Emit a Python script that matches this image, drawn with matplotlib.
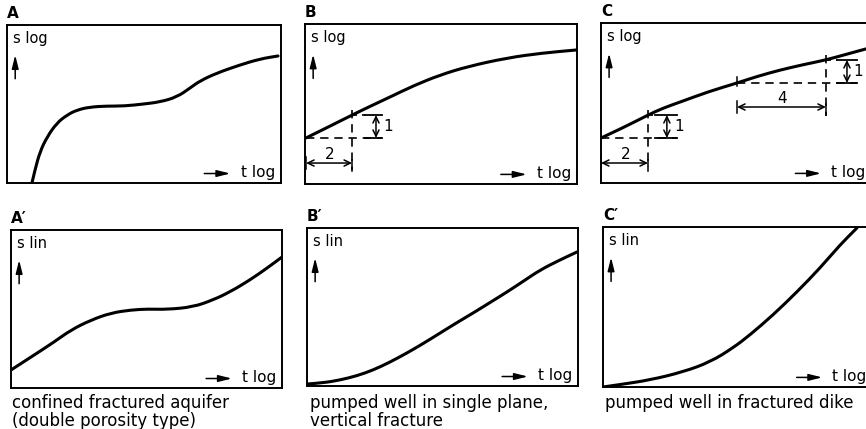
import matplotlib
matplotlib.use("Agg")
import matplotlib.pyplot as plt
from matplotlib.path import Path
from matplotlib.patches import PathPatch

# curves, in box fractions (t log -> x, s -> y)
a_t = [0.091, 0.102, 0.120, 0.146, 0.182, 0.219, 0.255, 0.303, 0.365, 0.427, 0.500, 0.558, 0.620, 0.668, 0.704, 0.766, 0.850, 0.923, 0.989]
a_s = [0.000, 0.082, 0.196, 0.291, 0.380, 0.430, 0.462, 0.481, 0.487, 0.487, 0.500, 0.513, 0.544, 0.601, 0.646, 0.696, 0.747, 0.785, 0.804]

b_t = [0.004, 0.090, 0.173, 0.245, 0.313, 0.400, 0.496, 0.600, 0.743, 0.870, 1.000]
b_s = [0.288, 0.360, 0.431, 0.490, 0.544, 0.615, 0.681, 0.735, 0.788, 0.818, 0.838]

c_t = [0.000, 0.090, 0.174, 0.230, 0.293, 0.400, 0.504, 0.580, 0.663, 0.750, 0.833, 0.910, 0.981, 1.000]
c_s = [0.281, 0.352, 0.425, 0.468, 0.506, 0.572, 0.625, 0.667, 0.706, 0.740, 0.769, 0.805, 0.838, 0.846]

a2_t = [0.000, 0.074, 0.159, 0.221, 0.295, 0.369, 0.443, 0.506, 0.576, 0.672, 0.745, 0.808, 0.882, 0.945, 1.000]
a2_s = [0.114, 0.196, 0.291, 0.367, 0.430, 0.475, 0.494, 0.500, 0.497, 0.513, 0.557, 0.608, 0.684, 0.759, 0.829]

b2_t = [0.004, 0.060, 0.122, 0.185, 0.244, 0.305, 0.369, 0.430, 0.491, 0.550, 0.613, 0.675, 0.738, 0.800, 0.860, 0.930, 0.996]
b2_s = [0.013, 0.020, 0.038, 0.065, 0.101, 0.150, 0.209, 0.270, 0.335, 0.398, 0.462, 0.528, 0.595, 0.665, 0.734, 0.795, 0.848]

c2_t = [0.000, 0.063, 0.175, 0.297, 0.398, 0.483, 0.546, 0.632, 0.721, 0.807, 0.881, 0.944]
c2_s = [0.000, 0.015, 0.044, 0.094, 0.156, 0.244, 0.325, 0.450, 0.594, 0.744, 0.888, 0.994]

panel_letters = ["A", "B", "C", "A\u2032", "B\u2032", "C\u2032"]
y_labels = ["s log", "s log", "s log", "s lin", "s lin", "s lin"]
captions = ["confined fractured aquifer\n(double porosity type)",
            "pumped well in single plane,\nvertical fracture",
            "pumped well in fractured dike"]

# slope construction points (start, end)
b_step = [(0.004, 0.288), (0.173, 0.431)]
c_step1 = [(0.000, 0.281), (0.174, 0.425)]
c_step2 = [(0.504, 0.625), (0.833, 0.769)]

W, H = 866, 429
fig = plt.figure(figsize=(W / 100, H / 100), dpi=100)
fig.patch.set_facecolor("white")


def rect(x0, y0, x1, y1):
    return [x0 / W, 1 - y1 / H, (x1 - x0) / W, (y1 - y0) / H]


def smooth_path(t, s):
    # quadratic bezier through midpoints, the read points act as control points
    pts = list(zip(t, s))
    verts = [pts[0]]
    codes = [Path.MOVETO]
    for k in range(1, len(pts) - 1):
        mid = ((pts[k][0] + pts[k + 1][0]) / 2, (pts[k][1] + pts[k + 1][1]) / 2)
        verts += [pts[k], mid]
        codes += [Path.CURVE3, Path.CURVE3]
    verts.append(pts[-1])
    codes.append(Path.LINETO)
    return Path(verts, codes)


boxes = [(7, 25, 281, 183), (305, 24, 577, 184), (601, 23, 871, 183),
         (11, 230, 282, 388), (307, 228, 578, 386), (603, 227, 872, 387)]
curves = [(a_t, a_s), (b_t, b_s), (c_t, c_s), (a2_t, a2_s), (b2_t, b2_s), (c2_t, c2_s)]

axes = []
for i, bx in enumerate(boxes):
    ax = fig.add_axes(rect(*bx))
    ax.set_xlim(0, 1)
    ax.set_ylim(0, 1)
    ax.set_xticks([])
    ax.set_yticks([])
    for sp in ax.spines.values():
        sp.set_linewidth(1.4)
        sp.set_color("black")
    t, s = curves[i]
    ax.add_patch(PathPatch(smooth_path(t, s), facecolor="none", edgecolor="black",
                           lw=2.2, capstyle="round", joinstyle="round"))

    # axis words and arrows
    ax.text(0.022, 0.915, y_labels[i], transform=ax.transAxes, fontsize=10.5,
            ha="left", va="center")
    ax.annotate("", xy=(0.03, 0.81), xytext=(0.03, 0.66), xycoords="axes fraction",
                arrowprops=dict(arrowstyle="-|>,head_length=0.8,head_width=0.2",
                                color="black", lw=1.1, shrinkA=0, shrinkB=0))
    ax.text(0.978, 0.065, "t log", transform=ax.transAxes, fontsize=11,
            ha="right", va="center")
    ax.annotate("", xy=(0.815, 0.06), xytext=(0.72, 0.06), xycoords="axes fraction",
                arrowprops=dict(arrowstyle="-|>,head_length=0.8,head_width=0.2",
                                color="black", lw=1.1, shrinkA=0, shrinkB=0))

    ax.text(0.0, 1.025, panel_letters[i], transform=ax.transAxes, fontsize=11,
            fontweight="bold", ha="left", va="bottom")
    axes.append(ax)

dim_arrow = dict(arrowstyle="<->,head_length=0.45,head_width=0.22", color="black",
                 lw=1.1, shrinkA=0, shrinkB=0)


def step(ax, p0, p1, hy, vx, cap0, cap1, label_w, label_h, v_low, h_end, lab_h_x, lab_w_x):
    (x0, y0), (x1, y1) = p0, p1
    # horizontal dashed from start, vertical dashed through end point
    ax.plot([x0, h_end], [y0, y0], color="black", lw=1.2, dashes=(5, 3.5))
    ax.plot([x1, x1], [y1 + 0.03, v_low], color="black", lw=1.2, dashes=(5, 3.5))
    ax.plot([x1, cap0], [y1, y1], color="black", lw=1.2, dashes=(3, 3))
    # caps of the vertical dimension
    ax.plot([cap0, cap1], [y1, y1], color="black", lw=1.3)
    ax.plot([cap0, cap1], [y0, y0], color="black", lw=1.3)
    ax.annotate("", xy=(vx, y1), xytext=(vx, y0), arrowprops=dim_arrow)
    ax.annotate("", xy=(x1, hy), xytext=(x0, hy), arrowprops=dim_arrow)
    ax.plot([x0, x0], [hy - 0.04, hy + 0.04], color="black", lw=1.1)
    ax.plot([x1, x1], [hy - 0.05, hy + 0.02], color="black", lw=1.1)
    ax.text(lab_w_x, hy + 0.055, label_w, fontsize=11, ha="center", va="center")
    ax.text(lab_h_x, (y0 + y1) / 2, label_h, fontsize=11, ha="left", va="center")


step(axes[1], b_step[0], b_step[1], 0.131, 0.261, 0.22, 0.283, "2", "1",
     0.085, 0.283, 0.287, 0.09)
step(axes[2], c_step1[0], c_step1[1], 0.125, 0.244, 0.20, 0.281, "2", "1",
     0.10, 0.281, 0.27, 0.09)
step(axes[2], c_step2[0], c_step2[1], 0.475, 0.911, 0.874, 0.948, "4", "1",
     0.42, 0.948, 0.935, 0.67)
# tick across the curve at the start of the second construction
axes[2].plot([c_step2[0][0]] * 2, [c_step2[0][1] - 0.02, c_step2[0][1] + 0.035],
             color="black", lw=1.1)

caption_px = [(12, 394), (310, 394), (605, 394)]
for (px, py), cap in zip(caption_px, captions):
    fig.text(px / W, 1 - py / H, cap, fontsize=12, ha="left", va="top",
             linespacing=0.98)

fig.savefig("out.png", dpi=100, facecolor="white")
